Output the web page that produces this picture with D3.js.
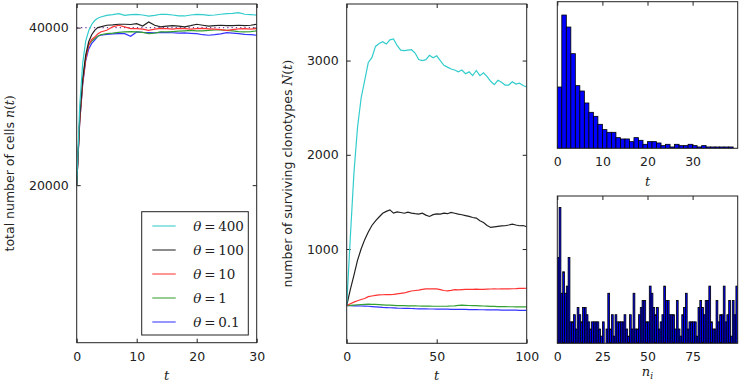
<!DOCTYPE html>
<html>
<head>
<meta charset="utf-8">
<script src="https://cdn.jsdelivr.net/npm/d3@7"></script>
<style>
  body { margin: 0; background: #fff; }
  text { font-family: "DejaVu Sans", sans-serif; fill: #222; }
  .math { font-family: "DejaVu Serif", serif; }
</style>
</head>
<body>
<div id="chart"></div>
<script>
// ---- left panel: total number of cells n(t)
const tLeft = [0, 0.5, 1, 1.5, 2, 2.5, 3, 3.5, 4, 5, 6, 7, 8, 9, 10, 11, 12, 13, 14, 15,
  16, 17, 18, 19, 20, 21, 22, 23, 24, 25, 26, 27, 28, 29, 30];
const nTheta400 = [20000, 30000, 35500, 38300, 39600, 40400, 40900, 41200, 41350, 41560, 41650, 41775,
  41560, 41650, 41690, 41600, 41450, 41550, 41700, 41690, 41600, 41500, 41480, 41600, 41690, 41650,
  41560, 41600, 41700, 41770, 41820, 41900, 41700, 41650, 41600];
const nTheta100 = [20000, 28500, 33500, 36500, 38200, 39100, 39660, 40000, 40100, 40300, 40350, 40430,
  40430, 40400, 40500, 40200, 40720, 40300, 40100, 40180, 40250, 40200, 40100, 40250, 40430, 40300,
  40180, 40250, 40300, 40260, 40260, 40300, 40260, 40300, 40430];
const nTheta10 = [20000, 28000, 33000, 36000, 37800, 38500, 38800, 39200, 39450, 39660, 40100, 40300,
  40100, 39870, 39870, 39800, 39660, 39800, 39900, 39870, 39800, 39900, 39870, 39800, 39870, 39900,
  39850, 39800, 39750, 39660, 39750, 39850, 39870, 39800, 39870];
const nTheta1 = [20000, 28200, 33200, 36200, 37800, 38300, 38600, 38900, 39100, 39240, 39300, 39400,
  39450, 39500, 39450, 39400, 39240, 39300, 39450, 39450, 39500, 39550, 39600, 39650, 39580, 39600,
  39650, 39700, 39700, 39660, 39600, 39500, 39450, 39500, 39580];
const nTheta01 = [20000, 28000, 32800, 35800, 37300, 38000, 38400, 38900, 39030, 39150, 39200, 39240,
  39240, 38900, 39450, 39400, 39370, 39350, 39400, 39370, 39350, 39300, 39330, 39280, 39240, 39100,
  39030, 39100, 39200, 39370, 39300, 39240, 39150, 39100, 39030];
const nTarget = 40000;

// ---- middle panel: number of surviving clonotypes N(t)
const tMid = d3.range(0, 101, 2);
const cTheta400 = [400, 1120, 1800, 2290, 2600, 2790, 2980, 3030, 3150, 3180, 3200, 3175, 3220, 3230,
  3160, 3110, 3105, 3110, 3115, 3080, 3010, 3000, 3010, 3055, 3030, 3050, 3000, 2950, 2930, 2910,
  2900, 2880, 2900, 2860, 2880, 2840, 2895, 2840, 2870, 2830, 2780, 2745, 2790, 2770, 2740, 2740,
  2775, 2750, 2760, 2735, 2720];
const cTheta100 = [400, 570, 720, 880, 1000, 1100, 1180, 1250, 1300, 1340, 1380, 1400, 1416, 1381,
  1395, 1388, 1380, 1392, 1381, 1375, 1370, 1380, 1360, 1346, 1365, 1374, 1370, 1381, 1375, 1388,
  1380, 1370, 1364, 1355, 1346, 1335, 1328, 1300, 1282, 1250, 1229, 1235, 1240, 1245, 1247, 1255,
  1264, 1255, 1247, 1250, 1236];
const cTheta10 = [400, 420, 437, 452, 465, 475, 495, 502, 508, 513, 515, 516, 517, 520, 525, 530, 534,
  545, 555, 560, 565, 572, 577, 578, 577, 577, 570, 560, 556, 562, 569, 566, 570, 573, 573, 572, 575,
  573, 573, 575, 576, 577, 576, 578, 577, 577, 579, 580, 582, 583, 584];
const cTheta1 = [400, 403, 406, 409, 411, 413, 415, 414, 412, 410, 408, 406, 404, 402, 400, 400, 399,
  398, 397, 397, 396, 395, 394, 394, 393, 393, 393, 393, 394, 396, 398, 402, 404, 403, 401, 400, 399,
  398, 396, 394, 392, 391, 390, 390, 389, 388, 388, 387, 387, 386, 386];
const cTheta01 = [400, 399, 398, 397, 396, 395, 393, 390, 387, 384, 381, 379, 377, 375, 373, 372, 371,
  370, 369, 367, 366, 365, 365, 364, 364, 363, 363, 362, 362, 361, 361, 360, 360, 359, 358, 358, 357,
  356, 356, 355, 355, 354, 354, 353, 353, 352, 351, 351, 350, 349, 349];

// ---- right panels: histograms (unit-width bins)
const lifetimeCounts = [46, 100, 91, 71, 47, 43, 34, 27, 24, 18, 14, 12, 12, 8, 7, 7, 5, 8, 6, 3,
  5, 5, 4, 2, 3, 1, 3, 2, 2, 3, 2, 1, 2, 1, 1, 1, 1, 1, 1, 0];
const sizeCounts = [12, 19, 7, 10, 7, 8, 12, 3, 3, 4, 2, 5, 4, 3, 5, 5, 4, 3, 2, 3,
  3, 3, 3, 2, 1, 3, 0, 2, 7, 2, 4, 1, 4, 3, 3, 3, 3, 4, 2, 1,
  4, 2, 7, 2, 2, 4, 5, 6, 6, 3, 3, 8, 7, 5, 4, 5, 2, 3, 4, 8,
  6, 6, 4, 4, 4, 2, 6, 2, 1, 4, 5, 7, 2, 3, 3, 3, 3, 1, 5, 6,
  5, 4, 6, 6, 8, 3, 2, 2, 6, 3, 4, 4, 8, 3, 4, 6, 1, 6, 4, 8];

const thetaLabels = ['400', '100', '10', '1', '0.1'];
const lineColors = ['#33cccc', '#222222', '#ff3333', '#33a033', '#3333ff'];

const W = 740, H = 383;
const svg = d3.select('#chart').append('svg').attr('width', W).attr('height', H);

// draws frame with inward ticks on all four sides
function panel(id, box, xScale, yScale, xTicks, yTicks, xFmt, yFmt) {
  const g = svg.append('g').attr('transform', `translate(${box.x},${box.y})`);
  g.append('clipPath').attr('id', id)
    .append('rect').attr('width', box.w).attr('height', box.h);

  const style = ax => {
    ax.select('.domain').remove();
    ax.selectAll('line').attr('stroke', '#222');
    ax.selectAll('text').attr('font-size', '12.5px').attr('fill', '#222');
  };
  g.append('g').attr('transform', `translate(0,${box.h})`)
    .call(d3.axisBottom(xScale).tickValues(xTicks).tickSize(-4).tickPadding(9).tickFormat(xFmt))
    .call(style);
  g.append('g')
    .call(d3.axisTop(xScale).tickValues(xTicks).tickSize(-4).tickFormat(''))
    .call(style);
  if (yTicks.length) {
    g.append('g')
      .call(d3.axisLeft(yScale).tickValues(yTicks).tickSize(-4).tickPadding(8).tickFormat(yFmt))
      .call(style);
    g.append('g').attr('transform', `translate(${box.w},0)`)
      .call(d3.axisRight(yScale).tickValues(yTicks).tickSize(-4).tickFormat(''))
      .call(style);
  }
  const body = g.append('g').attr('clip-path', `url(#${id})`);
  g.append('rect').attr('width', box.w).attr('height', box.h)
    .attr('fill', 'none').attr('stroke', '#222').attr('stroke-width', 1);
  return { g, body };
}

function mathLabel(sel, parts) {
  parts.forEach(([txt, italic]) => {
    sel.append('tspan')
      .attr('class', italic !== null ? 'math' : null)
      .attr('font-style', italic ? 'italic' : null)
      .text(txt);
  });
}

// ---- left panel
const boxL = { x: 76.7, y: 4, w: 180, h: 338.7 };
const xL = d3.scaleLinear().domain([0, 30]).range([0, boxL.w]);
const yL = d3.scaleLinear().domain([0, 43000]).range([boxL.h, 0]);
const pL = panel('clipL', boxL, xL, yL, [0, 10, 20, 30], [20000, 40000], d3.format('d'), d3.format('d'));

pL.body.append('line')
  .attr('x1', xL(0)).attr('x2', xL(30)).attr('y1', yL(nTarget)).attr('y2', yL(nTarget))
  .attr('stroke', '#7b3fa0').attr('stroke-width', 1.3).attr('stroke-dasharray', '1.3,3');

const leftSeries = [nTheta400, nTheta100, nTheta10, nTheta1, nTheta01];
const lineL = d3.line().x((d, i) => xL(tLeft[i])).y(d => yL(d));
leftSeries.slice().reverse().forEach((s, k) => {
  pL.body.append('path').datum(s)
    .attr('d', lineL).attr('fill', 'none')
    .attr('stroke', lineColors[leftSeries.length - 1 - k]).attr('stroke-width', 1.2);
});

// legend
const leg = pL.g.append('g').attr('transform', `translate(${141.7 - boxL.x},${211.7 - boxL.y})`);
leg.append('rect').attr('width', 106.6).attr('height', 123.3)
  .attr('fill', '#fff').attr('stroke', '#222').attr('stroke-width', 1);
thetaLabels.forEach((lab, i) => {
  const yy = 14.3 + i * 24;
  leg.append('line').attr('x1', 10.6).attr('x2', 34).attr('y1', yy).attr('y2', yy)
    .attr('stroke', lineColors[i]).attr('stroke-width', 1.3).attr('opacity', 0.8);
  const t = leg.append('text').attr('x', 51.6).attr('y', yy).attr('dy', '0.35em')
    .attr('font-size', '13.5px');
  mathLabel(t, [['θ', true], ['\u2009=\u2009', false], [lab, false]]);
});

// axis labels left
const ylabL = svg.append('text')
  .attr('transform', `translate(13.5,${boxL.y + boxL.h / 2}) rotate(-90)`)
  .attr('text-anchor', 'middle').attr('font-size', '12.5px');
mathLabel(ylabL, [['total number of cells ', null], ['n', true], ['(', false], ['t', true], [')', false]]);
svg.append('text').attr('class', 'math').attr('font-style', 'italic')
  .attr('x', boxL.x + boxL.w / 2).attr('y', 380).attr('text-anchor', 'middle')
  .attr('font-size', '13px').text('t');

// ---- middle panel
const boxM = { x: 346.7, y: 4, w: 180, h: 339.3 };
const xM = d3.scaleLinear().domain([0, 100]).range([0, boxM.w]);
const yM = d3.scaleLinear().domain([0, 3600]).range([boxM.h, 0]);
const pM = panel('clipM', boxM, xM, yM, [0, 50, 100], [1000, 2000, 3000], d3.format('d'), d3.format('d'));

const midSeries = [cTheta400, cTheta100, cTheta10, cTheta1, cTheta01];
const lineM = d3.line().x((d, i) => xM(tMid[i])).y(d => yM(d));
midSeries.slice().reverse().forEach((s, k) => {
  pM.body.append('path').datum(s)
    .attr('d', lineM).attr('fill', 'none')
    .attr('stroke', lineColors[midSeries.length - 1 - k]).attr('stroke-width', 1.2);
});

const ylabM = svg.append('text')
  .attr('transform', `translate(291.5,${boxM.y + boxM.h / 2}) rotate(-90)`)
  .attr('text-anchor', 'middle').attr('font-size', '12.5px');
mathLabel(ylabM, [['number of surviving clonotypes ', null], ['N', true], ['(', false], ['t', true], [')', false]]);
svg.append('text').attr('class', 'math').attr('font-style', 'italic')
  .attr('x', boxM.x + boxM.w / 2).attr('y', 380).attr('text-anchor', 'middle')
  .attr('font-size', '13px').text('t');

// ---- histograms
function histogram(id, box, counts, xMax, yMax, xTicks) {
  const x = d3.scaleLinear().domain([0, xMax]).range([0, box.w]);
  const y = d3.scaleLinear().domain([0, yMax]).range([box.h, 0]);
  const p = panel(id, box, x, y, xTicks, [], d3.format('d'), null);
  p.body.selectAll('rect.bar')
    .data(counts)
    .join('rect')
    .attr('class', 'bar')
    .attr('x', (d, i) => x(i))
    .attr('width', x(1) - x(0))
    .attr('y', d => y(d))
    .attr('height', d => y(0) - y(d))
    .attr('fill', '#0000ff')
    .attr('stroke', '#000')
    .attr('stroke-width', 0.8);
  return p;
}

const boxT = { x: 557.3, y: 1.7, w: 180.4, h: 146.6 };
histogram('clipT', boxT, lifetimeCounts, 40, 110, [0, 10, 20, 30]);
svg.append('text').attr('class', 'math').attr('font-style', 'italic')
  .attr('x', boxT.x + boxT.w / 2).attr('y', 186).attr('text-anchor', 'middle')
  .attr('font-size', '13px').text('t');

const boxB = { x: 557.3, y: 196, w: 180.4, h: 147.3 };
histogram('clipB', boxB, sizeCounts, 100, 20.6, [0, 25, 50, 75]);
const nl = svg.append('text').attr('class', 'math').attr('font-style', 'italic')
  .attr('x', boxB.x + boxB.w / 2).attr('y', 376).attr('text-anchor', 'middle')
  .attr('font-size', '13px');
nl.append('tspan').text('n');
nl.append('tspan').attr('font-size', '9px').attr('dy', 3).text('i');
</script>
</body>
</html>
